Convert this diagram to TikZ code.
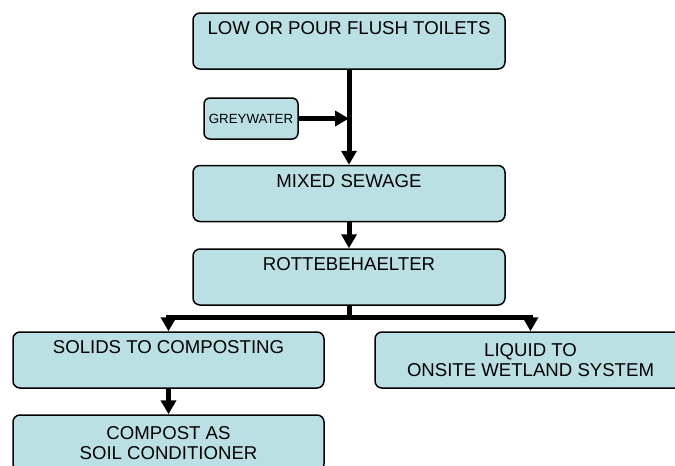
\documentclass[tikz,border=0pt]{standalone}
\usepackage{fontspec}
\setmainfont{Liberation Sans}
\usetikzlibrary{arrows.meta}
\definecolor{boxfill}{RGB}{186,224,227}
\begin{document}
\begin{tikzpicture}[x=1pt,y=-1pt,
    stage/.style={draw,line width=1.5pt,fill=boxfill,rounded corners=7pt,
      minimum width=312pt,minimum height=56pt,inner sep=4pt,align=center,
      font=\fontsize{18.6}{20}\selectfont},
    toptext/.style={text height=17.7pt,text depth=30.3pt},
    flow/.style={line width=5pt,-{Triangle[length=14pt,width=15pt]}},
    bar/.style={line width=5pt}]
	  \clip (0,0) rectangle (675,466);
	  % boxes
	  \node[stage,toptext] (toilets) at (349,41) {LOW OR POUR FLUSH TOILETS};
	  \node[stage,minimum width=94pt,minimum height=41pt,rounded corners=6pt,
	    font=\fontsize{13.3}{15}\selectfont,yshift=-1pt] (grey) at (251,117.5) {GREYWATER};
	  \node[stage,toptext] (sewage) at (349,193.5) {MIXED SEWAGE};
	  \node[stage,toptext] (rotte) at (349,277) {ROTTEBEHAELTER};
	  \node[stage,toptext,minimum width=311pt] (solids) at (168.5,360) {SOLIDS TO COMPOSTING};
	  \node[stage,minimum width=311pt] (liquid) at (530.5,360) {LIQUID TO\\ONSITE WETLAND SYSTEM};
	  \node[stage,minimum width=311pt] (compost) at (168.5,443) {COMPOST AS\\SOIL CONDITIONER};
	  % connectors
	  \coordinate (join) at (toilets.south |- grey.east);
	  \coordinate (split) at ([yshift=-12pt]rotte.south);
	  \draw[flow] (toilets.south) -- (sewage.north);
	  \draw[flow] (grey.east) -- (join);
	  \draw[flow] (sewage.south) -- (rotte.north);
	  \draw[bar] (rotte.south) -- (split);
	  \draw[flow] (split) -| (solids.north);
	  \draw[flow] (split) -| (liquid.north);
	  \draw[flow] (solids.south) -- (compost.north);
	\end{tikzpicture}
\end{document}
